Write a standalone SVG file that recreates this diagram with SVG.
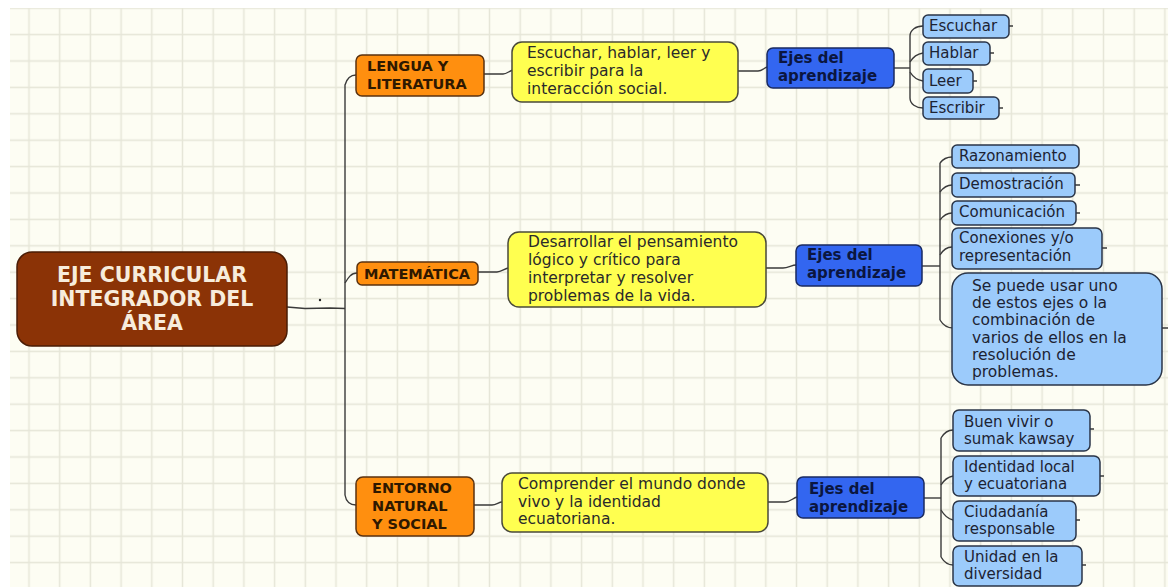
<svg xmlns="http://www.w3.org/2000/svg" width="1168" height="587" viewBox="0 0 1168 587">
<defs>
<pattern id="grid" x="13.65" y="-5" width="30.7" height="26.4" patternUnits="userSpaceOnUse">
<rect width="30.7" height="26.4" fill="#fdfdf3"/>
<line x1="15.35" y1="0" x2="15.35" y2="26.4" stroke="#e6e6d8" stroke-width="1.5"/>
<line x1="0" y1="13.2" x2="30.7" y2="13.2" stroke="#e6e6d8" stroke-width="1.5"/>
</pattern>
<style>
.root{fill:#8b3306;stroke:#4a1c04;stroke-width:1.5}
.o{fill:#ff8f0f;stroke:#5a3210;stroke-width:1.5}
.y{fill:#ffff50;stroke:#4a4a3a;stroke-width:1.5}
.b{fill:#3366f0;stroke:#1a2a60;stroke-width:1.5}
.lb{fill:#9ccbfb;stroke:#2a3548;stroke-width:1.5}
text{font-family:"DejaVu Sans",Verdana,sans-serif;font-size:15px;fill:#222}
.rt{font-size:20.5px;font-weight:bold;fill:#f7ecdc}
.ot{font-size:14.5px;font-weight:bold;fill:#2e1800}
.yt{font-size:15.5px;fill:#2a2a2a}
.bt{font-weight:bold;fill:#0b1640}
.lt{fill:#1c2333}
.big{font-size:15.5px}
.c{fill:none;stroke:#3a3a3a;stroke-width:1.4}
.s{fill:none;stroke:#3a3a3a;stroke-width:1.4}
</style>
</defs>
<rect x="0" y="0" width="1168" height="587" fill="#ffffff"/>
<rect x="10" y="8" width="1158" height="579" fill="url(#grid)"/>

<g id="connectors">
<path class="c" d="M356 75 C350 75 347 78 345 85 L345 495 C346 501 350 505 356 505" stroke-width="1.6"/>
<path class="c" d="M287 307 L305 308.5 L330 308 L345 308.5" stroke-width="2"/>
<circle cx="320" cy="300" r="1.2" fill="#222"/>
<path class="c" d="M345 283 C348 278 351 273 357 273"/>
<path class="c" d="M484 74 L503 74 C507 74 509 71 513 70"/>
<path class="c" d="M738 71 L758 71 C762 71 764 68 767 67"/>
<path class="c" d="M894 68 L910 68"/>
<path class="c" d="M910 68 L910 36 C910 30 916 26 923 26"/>
<path class="c" d="M910 62 C913 57 917 54 923 53"/>
<path class="c" d="M910 72 C913 77 917 80 923 81"/>
<path class="c" d="M910 68 L910 98 C910 104 916 108 923 108"/>
<path class="c" d="M478 272 L497 272 C501 272 504 269 508 268"/>
<path class="c" d="M766 268 L783 268 C788 268 792 265 796 265"/>
<path class="c" d="M922 266 L940 266"/>
<path class="c" d="M940 163 L940 320"/>
<path class="c" d="M940 163 C943 159 947 157 952 157"/>
<path class="c" d="M940 192 C943 188 947 185 952 185"/>
<path class="c" d="M940 220 C943 216 947 213 952 213"/>
<path class="c" d="M940 255 C943 250 947 247 952 247"/>
<path class="c" d="M940 320 C943 325 947 328 953 328"/>
<path class="c" d="M474 505 L492 505 C496 505 499 502 502 502"/>
<path class="c" d="M768 502 L785 502 C790 502 793 498 797 497"/>
<path class="c" d="M924 498 L941 498" stroke-width="2.5"/>
<path class="c" d="M941 438 L941 557"/>
<path class="c" d="M941 438 C944 433 948 430 953 430"/>
<path class="c" d="M941 485 C944 480 948 477 953 476"/>
<path class="c" d="M941 510 C944 515 948 519 953 520"/>
<path class="c" d="M941 557 C944 562 948 565 953 565"/>
<path class="s" d="M1009 26 h4 M990 53 h4 M973 81 h4 M999 108 h4 M1075 185 h5 M1076 213 h4 M1102 248 h5 M1162 328 h6 M1090 429 h4 M1100 476 h4 M1076 520 h4 M1082 565 h4"/>
</g>

<g id="root">
<rect class="root" x="17" y="252" width="270" height="94" rx="15"/>
<text class="rt" x="152" y="282" text-anchor="middle">EJE CURRICULAR</text>
<text class="rt" x="152" y="306" text-anchor="middle">INTEGRADOR DEL</text>
<text class="rt" x="152" y="330" text-anchor="middle">ÁREA</text>
</g>

<g id="lengua">
<rect class="o" x="356" y="55" width="128" height="41" rx="6"/>
<text class="ot" x="367" y="71">LENGUA Y</text>
<text class="ot" x="367" y="89">LITERATURA</text>
</g>
<g id="lengua-obj">
<rect class="y" x="512" y="42" width="226" height="60" rx="10"/>
<text class="yt" x="527" y="58">Escuchar, hablar, leer y</text>
<text class="yt" x="527" y="76">escribir para la</text>
<text class="yt" x="527" y="94">interacción social.</text>
</g>
<g id="lengua-ejes">
<rect class="b" x="767" y="48" width="127" height="40" rx="6"/>
<text class="bt" x="778" y="63">Ejes del</text>
<text class="bt" x="778" y="81">aprendizaje</text>
</g>
<g id="escuchar"><rect class="lb" x="923" y="15" width="86" height="23" rx="5"/><text class="lt" x="929" y="31">Escuchar</text></g>
<g id="hablar"><rect class="lb" x="923" y="42" width="67" height="23" rx="5"/><text class="lt" x="929" y="58">Hablar</text></g>
<g id="leer"><rect class="lb" x="923" y="69" width="50" height="24" rx="5"/><text class="lt" x="929" y="86">Leer</text></g>
<g id="escribir"><rect class="lb" x="923" y="97" width="76" height="22" rx="5"/><text class="lt" x="929" y="113">Escribir</text></g>

<g id="matematica">
<rect class="o" x="357" y="262" width="121" height="23" rx="5"/>
<text class="ot" x="364" y="279">MATEMÁTICA</text>
</g>
<g id="matematica-obj">
<rect class="y" x="508" y="232" width="258" height="75" rx="11"/>
<text class="yt" x="528" y="247">Desarrollar el pensamiento</text>
<text class="yt" x="528" y="265">lógico y crítico para</text>
<text class="yt" x="528" y="283">interpretar y resolver</text>
<text class="yt" x="528" y="301">problemas de la vida.</text>
</g>
<g id="matematica-ejes">
<rect class="b" x="796" y="245" width="126" height="41" rx="6"/>
<text class="bt" x="807" y="260">Ejes del</text>
<text class="bt" x="807" y="278">aprendizaje</text>
</g>
<g id="razonamiento"><rect class="lb" x="952" y="145" width="127" height="23" rx="5"/><text class="lt" x="959" y="161">Razonamiento</text></g>
<g id="demostracion"><rect class="lb" x="952" y="173" width="123" height="24" rx="5"/><text class="lt" x="959" y="189">Demostración</text></g>
<g id="comunicacion"><rect class="lb" x="952" y="201" width="124" height="24" rx="5"/><text class="lt" x="959" y="217">Comunicación</text></g>
<g id="conexiones"><rect class="lb" x="952" y="228" width="150" height="41" rx="6"/><text class="lt" x="959" y="243">Conexiones y/o</text><text class="lt" x="959" y="261">representación</text></g>
<g id="nota">
<rect class="lb" x="952" y="273" width="210" height="112" rx="16" stroke-width="2"/>
<text class="lt big" x="972" y="291">Se puede usar uno</text>
<text class="lt big" x="972" y="308">de estos ejes o la</text>
<text class="lt big" x="972" y="325">combinación de</text>
<text class="lt big" x="972" y="343">varios de ellos en la</text>
<text class="lt big" x="972" y="360">resolución de</text>
<text class="lt big" x="972" y="377">problemas.</text>
</g>

<g id="entorno">
<rect class="o" x="356" y="477" width="118" height="59" rx="7"/>
<text class="ot" x="372" y="493">ENTORNO</text>
<text class="ot" x="372" y="511">NATURAL</text>
<text class="ot" x="372" y="529">Y SOCIAL</text>
</g>
<g id="entorno-obj">
<rect class="y" x="502" y="473" width="266" height="59" rx="10"/>
<text class="yt" x="518" y="489">Comprender el mundo donde</text>
<text class="yt" x="518" y="507">vivo y la identidad</text>
<text class="yt" x="518" y="524">ecuatoriana.</text>
</g>
<g id="entorno-ejes">
<rect class="b" x="797" y="477" width="127" height="41" rx="6"/>
<text class="bt" x="809" y="494">Ejes del</text>
<text class="bt" x="809" y="512">aprendizaje</text>
</g>
<g id="buenvivir"><rect class="lb" x="953" y="410" width="137" height="41" rx="6"/><text class="lt" x="964" y="427">Buen vivir o</text><text class="lt" x="964" y="444">sumak kawsay</text></g>
<g id="identidad"><rect class="lb" x="953" y="456" width="147" height="40" rx="6"/><text class="lt" x="964" y="472">Identidad local</text><text class="lt" x="964" y="489">y ecuatoriana</text></g>
<g id="ciudadania"><rect class="lb" x="953" y="501" width="123" height="40" rx="6"/><text class="lt" x="964" y="517">Ciudadanía</text><text class="lt" x="964" y="534">responsable</text></g>
<g id="unidad"><rect class="lb" x="953" y="546" width="129" height="40" rx="6"/><text class="lt" x="964" y="562">Unidad en la</text><text class="lt" x="964" y="579">diversidad</text></g>
</svg>
